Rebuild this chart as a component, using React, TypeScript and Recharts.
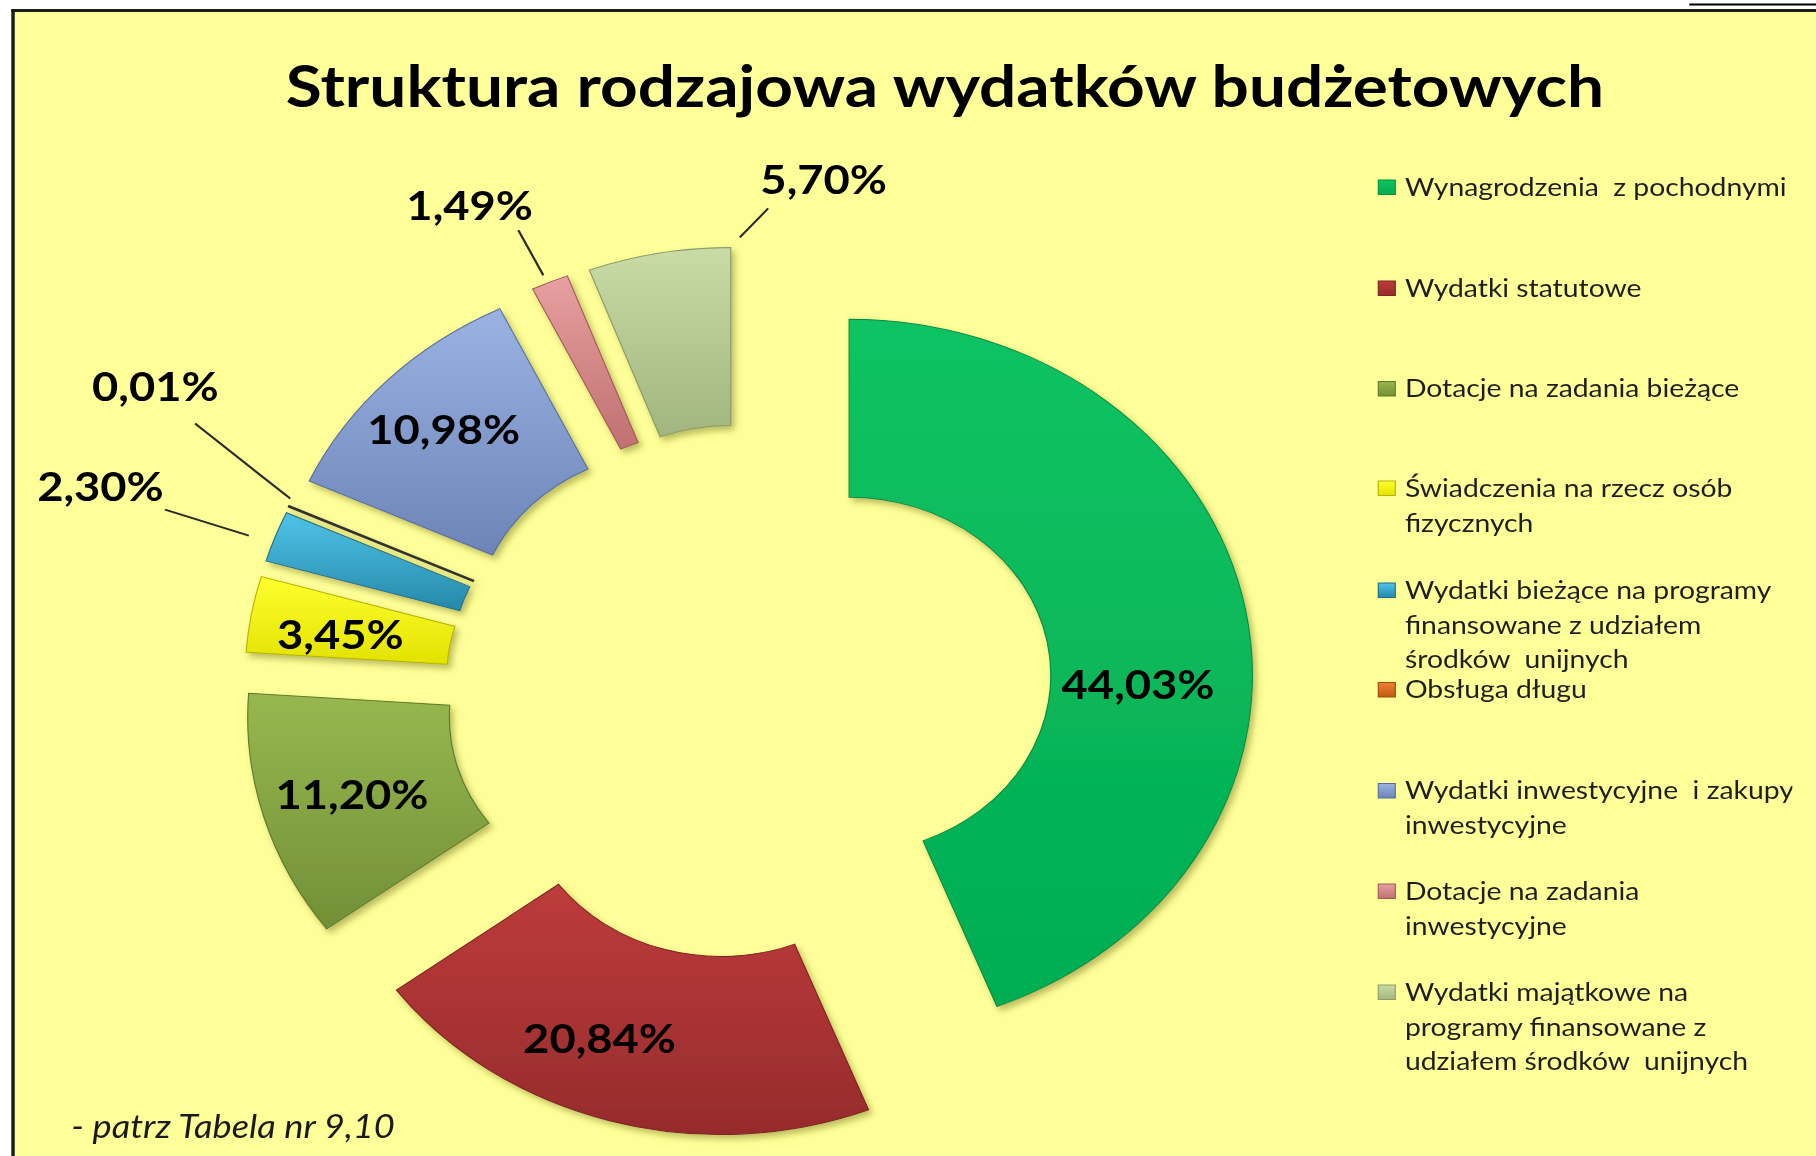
import React from 'react';
import { PieChart, Pie, Cell, Sector, Legend } from 'recharts';

// ---------- data ----------
const categories = [
  'Wynagrodzenia z pochodnymi',
  'Wydatki statutowe',
  'Dotacje na zadania bieżące',
  'Świadczenia na rzecz osób fizycznych',
  'Wydatki bieżące na programy finansowane z udziałem środków unijnych',
  'Obsługa długu',
  'Wydatki inwestycyjne i zakupy inwestycyjne',
  'Dotacje na zadania inwestycyjne',
  'Wydatki majątkowe na programy finansowane z udziałem środków unijnych',
];
const shares = [44.03, 20.84, 11.2, 3.45, 2.3, 0.01, 10.98, 1.49, 5.7];
const legendLines = [
  ['Wynagrodzenia  z pochodnymi'],
  ['Wydatki statutowe'],
  ['Dotacje na zadania bieżące'],
  ['Świadczenia na rzecz osób', 'fizycznych'],
  ['Wydatki bieżące na programy', 'finansowane z udziałem', 'środków  unijnych'],
  ['Obsługa długu'],
  ['Wydatki inwestycyjne  i zakupy', 'inwestycyjne'],
  ['Dotacje na zadania', 'inwestycyjne'],
  ['Wydatki majątkowe na', 'programy finansowane z', 'udziałem środków  unijnych'],
];
const titleText = 'Struktura rodzajowa wydatków budżetowych';
const noteText = '- patrz Tabela nr 9,10';

// ---------- styles / layout ----------
const sliceTop = ['#0CC363', '#BE3B3B', '#97B84F', '#FFFF30', '#50C4E9', '#F08030', '#9AB3E3', '#E8A0A0', '#CADCA6'];
const sliceBottom = ['#03AD51', '#962B2C', '#728F37', '#E2E200', '#2588A9', '#C05A10', '#6C84B7', '#C07070', '#A1B57F'];
const sliceStroke = ['#048F43', '#7E2424', '#5E7A2C', '#B5B500', '#1E6F8A', '#333333', '#5A6E9C', '#A05A5C', '#8A9C6A'];

const K = 1.133; // horizontal stretch of the original picture
const W = 1603;
const H = 1156;
const CX = 661;
const CY = 692;
const R_OUT = 356;
const R_IN = 178;
const EXPLODE = 90;
const LEGEND_LEFT = 1202;
const LEGEND_Y = [196, 297, 397.5, 497, 599, 698.5, 799.5, 900, 1001];
const LINE_H = 34.7;

const LABEL_LAYOUT: { dx: number; dy: number; line?: number[] }[] = [
  { dx: 255, dy: 10 },
  { dx: -107, dy: 261 },
  { dx: -264, dy: 78 },
  { dx: -272, dy: -41 },
  { dx: -488, dy: -174, line: [-357, -125, -431, -151] },
  { dx: -442, dy: -268, line: [-323, -156, -407, -231] },
  { dx: -205, dy: -199 },
  { dx: -211, dy: -403, line: [-146, -334, -168, -379] },
  { dx: 82, dy: -423, line: [8, -366, 33, -395] },
];

const data = categories.map((name, i) => ({ name, value: shares[i] }));

const fmt = (v: number) => v.toFixed(2).replace('.', ',') + '%';

const explodedCenter = (cx: number, cy: number, midAngle: number) => {
  const a = (-midAngle * Math.PI) / 180;
  return [cx + EXPLODE * Math.cos(a), cy + EXPLODE * Math.sin(a)];
};

const ExplodedSector = (props: any) => {
  const { cx, cy, midAngle, innerRadius, outerRadius, startAngle, endAngle, fill, stroke, strokeWidth } = props;
  const [sx, sy] = explodedCenter(cx, cy, midAngle);
  return (
    <Sector
      cx={sx}
      cy={sy}
      innerRadius={innerRadius}
      outerRadius={outerRadius}
      startAngle={startAngle}
      endAngle={endAngle}
      fill={fill}
      stroke={stroke}
      strokeWidth={strokeWidth}
      filter="url(#sliceShadow)"
    />
  );
};

const renderLabel = (props: any) => {
  const { cx, cy, midAngle, index } = props;
  const [sx, sy] = explodedCenter(cx, cy, midAngle);
  const p = LABEL_LAYOUT[index];
  return (
    <g key={`lbl-${index}`}>
      {p.line && (
        <line
          x1={sx + p.line[0]}
          y1={sy + p.line[1]}
          x2={sx + p.line[2]}
          y2={sy + p.line[3]}
          stroke="#2a2a2a"
          strokeWidth={2}
        />
      )}
      <text
        x={sx + p.dx}
        y={sy + p.dy + 14}
        textAnchor="middle"
        fill="#000"
        fontFamily="Lato, 'Open Sans', sans-serif"
        fontWeight={700}
        fontSize={40}
      >
        {fmt(shares[index])}
      </text>
    </g>
  );
};

const LegendContent = () => (
  <svg width={380} height={1100}>
    {legendLines.map((lines, i) => {
      const base = LEGEND_Y[i];
      return (
        <g key={i}>
          <rect
            x={1216.5 - LEGEND_LEFT}
            y={base - 16}
            width={15}
            height={14.5}
            fill={`url(#grad-${i})`}
            stroke={sliceStroke[i] === '#333333' ? '#A04A0A' : sliceStroke[i]}
            strokeWidth={1}
          />
          {lines.map((t, j) => (
            <text
              key={j}
              x={1240 - LEGEND_LEFT}
              y={base + j * LINE_H}
              fill="#1e1e1e"
              fontFamily="Lato, 'Open Sans', sans-serif"
              fontSize={25}
              style={{ whiteSpace: 'pre' }}
            >
              {t}
            </text>
          ))}
        </g>
      );
    })}
  </svg>
);

export default function App() {
  return (
    <>
      <style>{'html,body{margin:0;overflow:hidden;background:#ffffff;}'}</style>
      <div
        style={{
          position: 'absolute',
          left: 0,
          top: 0,
          width: W,
          height: H,
          overflow: 'hidden',
          background: '#FFFF99',
          transform: `scaleX(${K})`,
          transformOrigin: '0 0',
        }}
      >
        <div style={{ position: 'absolute', left: 0, top: 0, width: W, height: 9, background: '#ffffff' }} />
        <div style={{ position: 'absolute', left: 0, top: 0, width: 10, height: H, background: '#ffffff' }} />
        <div style={{ position: 'absolute', left: 10, top: 9, width: W - 10, height: 3, background: '#1c1c1c' }} />
        <div style={{ position: 'absolute', left: 10, top: 9, width: 3, height: H - 9, background: '#1c1c1c' }} />
        <svg width={W} height={H} style={{ position: 'absolute', left: 0, top: 0 }}>
          <defs>
            {sliceTop.map((c, i) => (
              <linearGradient key={i} id={`grad-${i}`} x1="0" y1="0" x2="0" y2="1">
                <stop offset="0%" stopColor={c} />
                <stop offset="100%" stopColor={sliceBottom[i]} />
              </linearGradient>
            ))}
            <filter id="sliceShadow" x="-20%" y="-20%" width="150%" height="150%">
              <feDropShadow dx="3" dy="4" stdDeviation="3" floodColor="#6b6b1f" floodOpacity="0.45" />
            </filter>
          </defs>
          <line x1={1491} y1={4.5} x2={W} y2={4.5} stroke="#000" strokeWidth={2} />
          <text
            x={834}
            y={107}
            textAnchor="middle"
            fill="#000"
            fontFamily="Lato, 'Open Sans', sans-serif"
            fontWeight={700}
            fontSize={58}
          >
            {titleText}
          </text>
          <text
            x={63}
            y={1138}
            fill="#1a1a1a"
            fontFamily="Lato, 'Open Sans', sans-serif"
            fontStyle="italic"
            fontSize={32}
          >
            {noteText}
          </text>
        </svg>
        <div style={{ position: 'absolute', left: 0, top: 0 }}>
          <PieChart width={W} height={H} margin={{ top: 0, right: 0, bottom: 0, left: 0 }}>
            <Pie
              data={data}
              dataKey="value"
              nameKey="name"
              cx={CX}
              cy={CY}
              innerRadius={R_IN}
              outerRadius={R_OUT}
              startAngle={90}
              endAngle={-270}
              isAnimationActive={false}
              shape={ExplodedSector}
              label={renderLabel}
              labelLine={false}
            >
              {data.map((d, i) => (
                <Cell
                  key={d.name}
                  fill={`url(#grad-${i})`}
                  stroke={sliceStroke[i]}
                  strokeWidth={i === 5 ? 2.5 : 1}
                />
              ))}
            </Pie>
            <Legend
              layout="vertical"
              align="right"
              verticalAlign="top"
              width={W - LEGEND_LEFT}
              height={H}
              wrapperStyle={{ left: LEGEND_LEFT, top: 0 }}
              content={() => <LegendContent />}
            />
          </PieChart>
        </div>
      </div>
    </>
  );
}
